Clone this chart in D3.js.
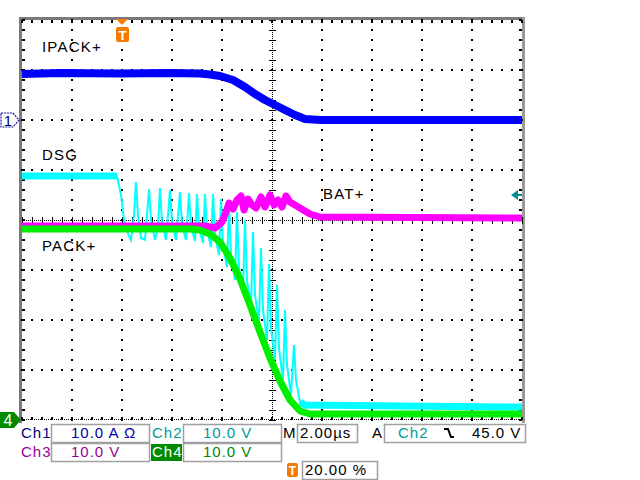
<!DOCTYPE html>
<html><head><meta charset="utf-8">
<script src="https://cdn.jsdelivr.net/npm/d3@7/dist/d3.min.js"></script>
<style>
body{margin:0;background:#fff;}
svg{display:block;font-family:"Liberation Sans",Arial,sans-serif;}
</style></head><body>
<svg id="c" width="640" height="480"></svg>
<script>
// ---- scope settings ----
const timeDomain = [-4, 16];      // µs, 2.00 µs/div, trigger at 20 %
const voltDomain = [0, 80];       // V, 10.0 V/div, Ch2-4 ground at bottom graticule
const ampDomain = [-60, 20];      // A, 10.0 A/div, Ch1 ground 2 div above centre
const majorTimeTicks = [-4, -2, 0, 2, 4, 6, 8, 10, 12, 14, 16];
const majorVoltTicks = [0, 10, 20, 30, 40, 50, 60, 70, 80];

// ---- Ch1 IPACK+ (A) ----
const ch1Time = [-4, -2.48, -0.08, 1.92, 3.12, 3.52, 3.92, 4.44, 4.92, 5.32, 5.72, 6.12, 6.52, 6.92, 7.32, 7.92, 11.12, 16];
const ch1Amps = [9.2, 9.4, 9.3, 9.4, 9.3, 9.1, 8.8, 8.0, 6.6, 5.2, 4.0, 3.0, 2.0, 1.0, 0.2, 0, 0, 0];

// ---- Ch2 DSG (V) ----
const ch2Time = [-4, -0.2, -0.04, 0.08, 0.24, 0.36, 0.48, 0.56, 0.64, 0.76, 0.92, 1.0, 1.08, 1.16, 1.32, 1.44, 1.52, 1.6, 1.76, 1.92, 2.0, 2.16, 2.32, 2.4, 2.56, 2.68, 2.76, 2.92, 3.0, 3.08, 3.24, 3.32, 3.4, 3.56, 3.64, 3.72, 3.88, 3.96, 4.04, 4.2, 4.28, 4.36, 4.52, 4.6, 4.68, 4.84, 4.92, 5.0, 5.16, 5.24, 5.32, 5.48, 5.56, 5.64, 5.8, 5.88, 5.96, 6.12, 6.2, 6.28, 6.44, 6.52, 6.6, 6.76, 6.88, 6.96, 7.12, 7.32, 11.12, 16];
const ch2Volts = [48.8, 48.8, 45.0, 40.0, 37.2, 36.0, 41.0, 47.6, 41.0, 36.4, 36.0, 41.0, 46.2, 40.0, 36.0, 39.0, 46.4, 39.6, 36.0, 46.0, 39.6, 36.0, 45.6, 39.0, 36.0, 45.4, 38.8, 35.8, 45.2, 38.4, 35.4, 45.2, 38.0, 34.6, 45.2, 37.0, 33.0, 44.2, 35.0, 30.6, 43.2, 33.0, 28.0, 41.6, 30.4, 25.6, 40.0, 28.0, 22.8, 37.6, 25.0, 19.6, 34.4, 22.0, 16.0, 31.2, 18.4, 12.0, 27.0, 14.4, 8.0, 22.0, 11.0, 5.0, 15.0, 8.0, 3.6, 3.0, 2.8, 2.6];

// ---- Ch3 BAT+ (V) ----
const ch3Time = [-4, 3.32, 3.72, 4.0, 4.16, 4.28, 4.44, 4.6, 4.76, 4.88, 5.04, 5.2, 5.36, 5.56, 5.72, 5.92, 6.08, 6.24, 6.4, 6.56, 6.72, 6.92, 7.12, 7.32, 7.52, 7.92, 16];
const ch3Volts = [38.8, 38.8, 38.4, 39.6, 41.6, 43.4, 42.2, 44.0, 44.8, 42.0, 44.2, 43.0, 42.4, 44.6, 42.6, 45.0, 43.0, 44.0, 42.6, 44.8, 43.6, 43.0, 42.4, 41.8, 41.2, 40.6, 40.4];

// ---- Ch4 PACK+ (V) ----
const ch4Time = [-4, 2.72, 3.12, 3.52, 3.92, 4.32, 4.72, 5.12, 5.52, 5.92, 6.32, 6.72, 7.12, 7.52, 16];
const ch4Volts = [38.2, 38.2, 38.0, 37.2, 35.6, 32.4, 28.2, 23.0, 17.6, 12.4, 7.8, 4.0, 1.8, 1.2, 1.2];

// ---- annotations ----
const traceLabels = [
  {text: "IPACK+", t: -3.2, v: 13.6, unit: "A"},
  {text: "DSG", t: -3.2, v: 52, unit: "V"},
  {text: "BAT+", t: 8.04, v: 44.2, unit: "V"},
  {text: "PACK+", t: -3.2, v: 33.8, unit: "V"}
];
const triggerLevel = 45.0;
const panelRow1 = [
  {label: "Ch1", value: "10.0 A Ω", color: "#00007a", vcolor: "#0000a8"},
  {label: "Ch2", value: "10.0 V", color: "#009a9a", vcolor: "#009a9a"}
];
const panelRow2 = [
  {label: "Ch3", value: "10.0 V", color: "#990099", vcolor: "#990099"},
  {label: "Ch4", value: "10.0 V", color: "#ffffff", vcolor: "#008a00", bg: "#008a00"}
];
const timebaseText = "2.00µs";
const trigSource = "Ch2";
const trigText = "45.0 V";
const trigPosText = "20.00 %";

// ---- scales ----
const L = 22, R = 522, T = 20, B = 420;
const x = d3.scaleLinear().domain(timeDomain).range([L, R]);
const yV = d3.scaleLinear().domain(voltDomain).range([B, T]);
const yA = d3.scaleLinear().domain(ampDomain).range([B, T]);

const svg = d3.select("#c");
svg.append("rect").attr("width", 640).attr("height", 480).attr("fill", "#fff");

// ---- graticule ----
const g = svg.append("g").attr("shape-rendering", "crispEdges");
g.append("rect").attr("x", 19).attr("y", 17).attr("width", 3).attr("height", 406).attr("fill", "#7a7a7a");
g.append("rect").attr("x", 19).attr("y", 17).attr("width", 506).attr("height", 3).attr("fill", "#7a7a7a");
g.append("rect").attr("x", 522).attr("y", 17).attr("width", 3).attr("height", 406).attr("fill", "#9a9a9a");

const minorT = d3.range(timeDomain[0], timeDomain[1] + 0.001, 0.4);
const minorV = d3.range(voltDomain[0], voltDomain[1] + 0.001, 2);
const dots = [];
majorTimeTicks.forEach(t => { if (t !== 6 && t !== -4 && t !== 16) minorV.forEach(v => dots.push([x(t), yV(v)])); });
majorVoltTicks.forEach(v => { if (v !== 40 && v !== 0 && v !== 80) minorT.forEach(t => dots.push([x(t), yV(v)])); });
g.selectAll("rect.dot").data(dots).enter().append("rect")
  .attr("x", d => Math.round(d[0]) - 1).attr("y", d => Math.round(d[1]) - 1)
  .attr("width", 2).attr("height", 2).attr("fill", "#000");
minorV.forEach(v => {
  g.append("rect").attr("x", L).attr("y", Math.round(yV(v)) - 1).attr("width", 3).attr("height", 2).attr("fill", "#000");
  g.append("rect").attr("x", R - 3).attr("y", Math.round(yV(v)) - 1).attr("width", 3).attr("height", 2).attr("fill", "#000");
});
minorT.forEach(t => {
  g.append("rect").attr("x", Math.round(x(t)) - 1).attr("y", T).attr("width", 2).attr("height", 3).attr("fill", "#000");
  g.append("rect").attr("x", Math.round(x(t)) - 1).attr("y", B - 3).attr("width", 2).attr("height", 3).attr("fill", "#000");
});
d3.range(L, R, 2).forEach(px => g.append("rect").attr("x", px).attr("y", B - 1).attr("width", 1).attr("height", 1).attr("fill", "#000"));
const cx = Math.round(x(6)), cy = Math.round(yV(40));
d3.range(T, B, 2).forEach(py => g.append("rect").attr("x", cx).attr("y", py).attr("width", 1).attr("height", 1).attr("fill", "#000"));
d3.range(L, R, 2).forEach(px => g.append("rect").attr("x", px).attr("y", cy).attr("width", 1).attr("height", 1).attr("fill", "#000"));
minorV.forEach(v => g.append("rect").attr("x", cx - 3).attr("y", Math.round(yV(v))).attr("width", 7).attr("height", 1).attr("fill", "#000"));
minorT.forEach(t => g.append("rect").attr("x", Math.round(x(t))).attr("y", cy - 3).attr("width", 1).attr("height", 7).attr("fill", "#000"));

// ---- traces ----
svg.append("clipPath").attr("id", "clip").append("rect").attr("x", L).attr("y", T).attr("width", R - L + 1).attr("height", B - T);
const tr = svg.append("g").attr("clip-path", "url(#clip)");
const lineV = d3.line().x(d => x(d[0])).y(d => yV(d[1]));
const lineA = d3.line().x(d => x(d[0])).y(d => yA(d[1]));
const ch1 = ch1Time.map((t, i) => [t, ch1Amps[i]]);
const ch2 = ch2Time.map((t, i) => [t, ch2Volts[i]]);
const ch3 = ch3Time.map((t, i) => [t, ch3Volts[i]]);
const ch4 = ch4Time.map((t, i) => [t, ch4Volts[i]]);

tr.append("path").attr("d", lineV(ch2)).attr("fill", "none").attr("stroke", "#00ffff").attr("stroke-width", 2).attr("stroke-linejoin", "miter");
tr.append("path").attr("d", lineV(ch2.filter(d => d[0] <= -0.2))).attr("fill", "none").attr("stroke", "#00ffff").attr("stroke-width", 7);
tr.append("path").attr("d", lineV(ch2.filter(d => d[0] >= 7.12))).attr("fill", "none").attr("stroke", "#00ffff").attr("stroke-width", 7);
tr.append("path").attr("d", lineV(ch3)).attr("fill", "none").attr("stroke", "#ff00ff").attr("stroke-width", 7).attr("stroke-linejoin", "round");
tr.append("path").attr("d", lineV(ch4)).attr("fill", "none").attr("stroke", "#00ee00").attr("stroke-width", 7).attr("stroke-linejoin", "round");
tr.append("path").attr("d", lineA(ch1)).attr("fill", "none").attr("stroke", "#0000ff").attr("stroke-width", 8).attr("stroke-linejoin", "round");

// ---- trace labels ----
svg.selectAll("text.lbl").data(traceLabels).enter().append("text")
  .attr("x", d => x(d.t)).attr("y", d => d.unit === "A" ? yA(d.v) : yV(d.v))
  .attr("font-size", 15).attr("letter-spacing", 1.2).attr("fill", "#000").text(d => d.text);

// ---- channel markers ----
const m1y = Math.round(yA(0));
svg.append("path").attr("d", `M1,${m1y - 7}H13L19,${m1y}L13,${m1y + 7}H1Z`).attr("fill", "#fff").attr("stroke", "#1010a0").attr("stroke-width", 1.2).attr("stroke-dasharray", "2,1");
svg.append("text").attr("x", 8).attr("y", m1y + 5.5).attr("text-anchor", "middle").attr("font-size", 15).attr("fill", "#00007a").text("1");
const m4y = Math.round(yV(0));
svg.append("path").attr("d", `M0,${m4y - 8}H14L21,${m4y}L14,${m4y + 8}H0Z`).attr("fill", "#008a00");
svg.append("text").attr("x", 8).attr("y", m4y + 6).attr("text-anchor", "middle").attr("font-size", 16).attr("fill", "#fff").text("4");

// trigger position marker
const tx = Math.round(x(0));
svg.append("path").attr("d", `M${tx - 6},19H${tx + 6}L${tx},25Z`).attr("fill", "#f57c00");
svg.append("rect").attr("x", tx - 6).attr("y", 27).attr("width", 13).attr("height", 15).attr("rx", 2).attr("fill", "#f57c00");
svg.append("text").attr("x", tx + 0.5).attr("y", 40).attr("text-anchor", "middle").attr("font-size", 13).attr("font-weight", "bold").attr("fill", "#fff").text("T");

// trigger level arrow
const ty = Math.round(yV(triggerLevel));
svg.append("path").attr("d", `M511,${ty}L518,${ty - 5}V${ty + 5}Z`).attr("fill", "#009090");
svg.append("rect").attr("x", 518).attr("y", ty - 1).attr("width", 4).attr("height", 2).attr("fill", "#009090");

// ---- readout panel ----
const p = svg.append("g").attr("font-size", 15).attr("letter-spacing", 1);
function box(x0, y0, w, h) {
  p.append("rect").attr("x", x0 + 0.5).attr("y", y0 + 0.5).attr("width", w).attr("height", h)
    .attr("fill", "none").attr("stroke", "#a0a0a0").attr("stroke-width", 1.5);
}
const rowsY = [424, 443];
[panelRow1, panelRow2].forEach((row, ri) => {
  row.forEach((c, ci) => {
    const lx = ci === 0 ? 20 : 151;
    const bx = ci === 0 ? 51 : 183;
    if (c.bg) p.append("rect").attr("x", lx).attr("y", rowsY[ri] + 1).attr("width", 31).attr("height", 17).attr("fill", c.bg);
    p.append("text").attr("x", lx + 1).attr("y", rowsY[ri] + 14).attr("fill", c.color).text(c.label);
    box(bx, rowsY[ri], 98, 18);
    p.append("text").attr("x", bx + 20).attr("y", rowsY[ri] + 14).attr("fill", c.vcolor).text(c.value);
  });
});
p.append("text").attr("x", 283).attr("y", 438).attr("fill", "#000").text("M");
box(297, 424, 60, 18);
p.append("text").attr("x", 300).attr("y", 438).attr("fill", "#000").text(timebaseText);
p.append("text").attr("x", 372).attr("y", 438).attr("fill", "#000").text("A");
box(384, 424, 141, 18);
p.append("text").attr("x", 398).attr("y", 438).attr("fill", "#009a9a").text(trigSource);
p.append("path").attr("d", "M444,429H448L451,437H454").attr("fill", "none").attr("stroke", "#000").attr("stroke-width", 2);
p.append("text").attr("x", 472).attr("y", 438).attr("fill", "#000").text(trigText);
p.append("rect").attr("x", 287).attr("y", 463).attr("width", 11).attr("height", 14).attr("rx", 2).attr("fill", "#f57c00");
p.append("text").attr("x", 292.5).attr("y", 475).attr("text-anchor", "middle").attr("font-size", 12).attr("font-weight", "bold").attr("letter-spacing", 0).attr("fill", "#fff").text("T");
box(302, 461, 75, 18);
p.append("text").attr("x", 305).attr("y", 475).attr("fill", "#000").text(trigPosText);
</script>
</body></html>
